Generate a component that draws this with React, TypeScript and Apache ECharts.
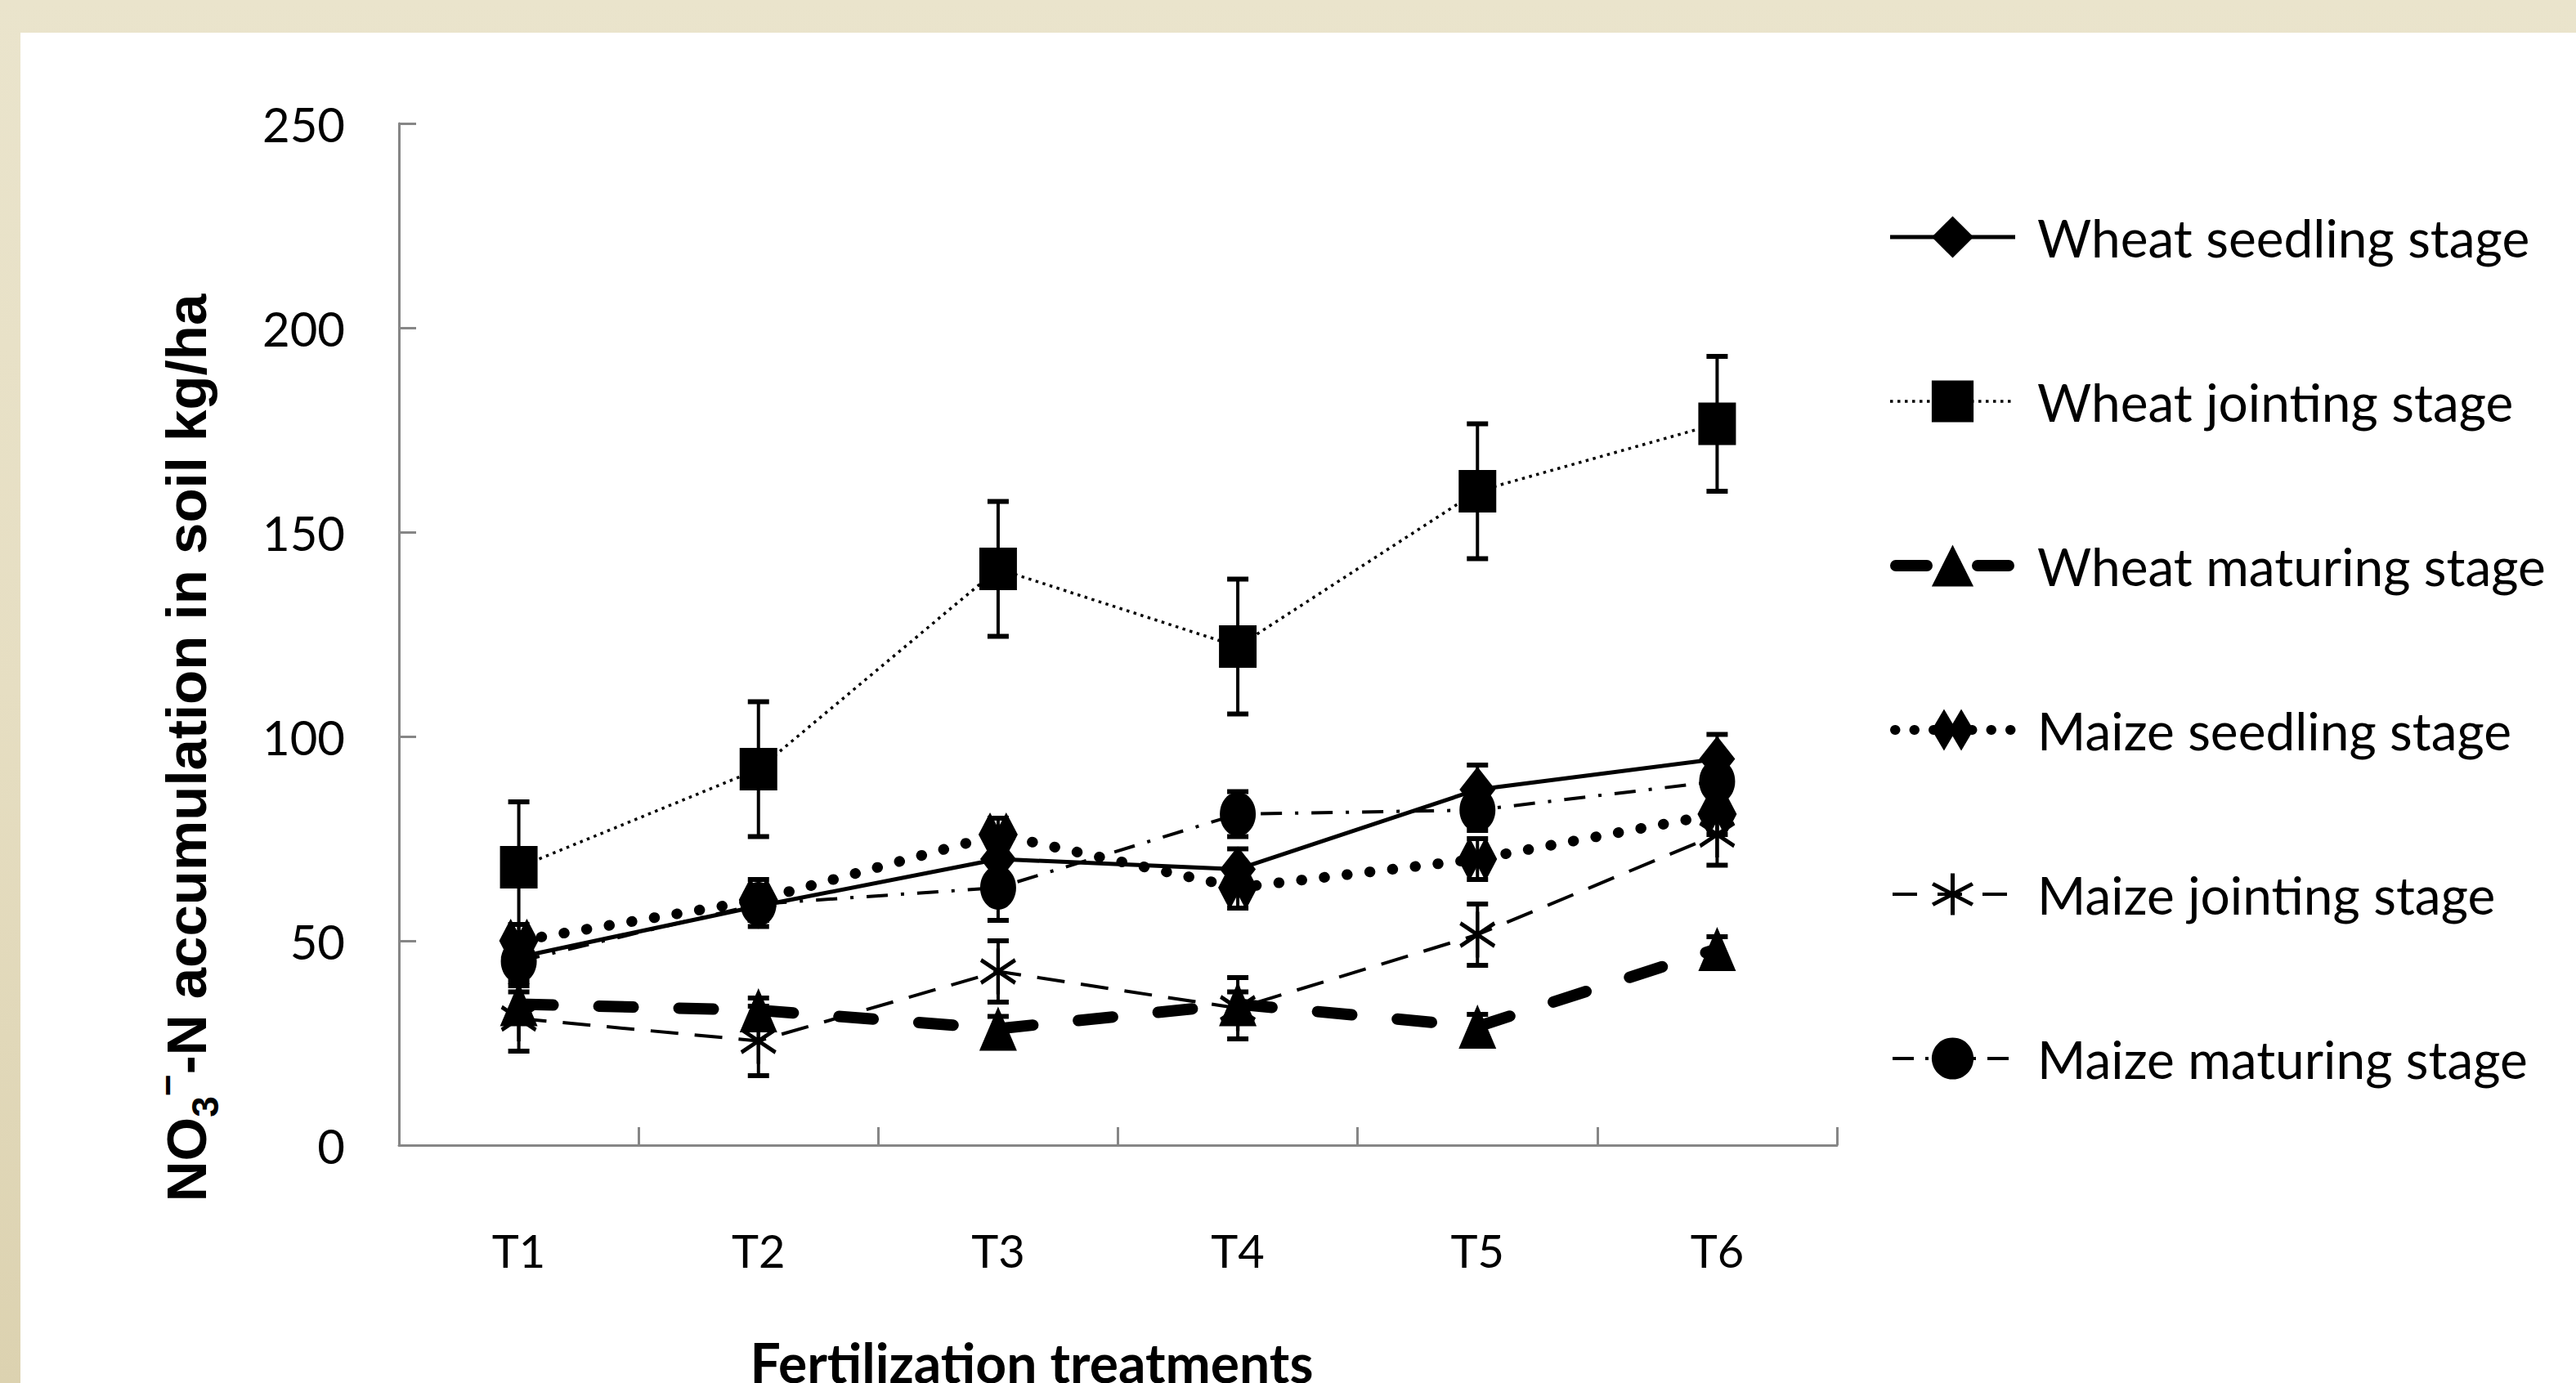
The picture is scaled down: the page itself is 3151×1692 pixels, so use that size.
import React, { useEffect, useRef } from "react";
import * as echarts from "echarts";

const categories = ["T1", "T2", "T3", "T4", "T5", "T6"];
const seriesNames = [
  "Wheat seedling stage",
  "Wheat jointing stage",
  "Wheat maturing stage",
  "Maize seedling stage",
  "Maize jointing stage",
  "Maize maturing stage",
];
const wheatSeedling = [46, 58.5, 70, 67.5, 87, 94.5];
const wheatSeedlingErr = [4, 5, 5, 5, 6, 6];
const wheatJointing = [68, 92, 141, 122, 160, 176.5];
const wheatJointingErr = [16, 16.5, 16.5, 16.5, 16.5, 16.5];
const wheatMaturing = [34.5, 33, 28.5, 34.5, 29, 48];
const wheatMaturingErr = [3, 3, 3, 3, 3, 3];
const maizeSeedling = [50, 60, 76, 63, 70, 81];
const maizeSeedlingErr = [4, 5, 4, 5, 5, 5];
const maizeJointing = [31, 25.5, 42.5, 33.5, 51.5, 76];
const maizeJointingErr = [8, 8.5, 7.5, 7.5, 7.5, 7.5];
const maizeMaturing = [45, 59, 63, 81, 82, 89];
const maizeMaturingErr = [5, 4, 8, 5.5, 5, 5];
const yMin = 0;
const yMax = 250;
const yStep = 50;

const FONT = "Lato, 'Open Sans', sans-serif";
const WIDE = "'Liberation Sans', Arial, sans-serif";
const AXIS_GREY = "#868686";

function bar(angleDeg: number, L: number, w: number): string {
  const a = (angleDeg * Math.PI) / 180;
  const dx = Math.sin(a), dy = -Math.cos(a);
  const nx = Math.cos(a), ny = Math.sin(a);
  const p = [
    [L * dx + w * nx, L * dy + w * ny],
    [L * dx - w * nx, L * dy - w * ny],
    [-L * dx - w * nx, -L * dy - w * ny],
    [-L * dx + w * nx, -L * dy + w * ny],
  ].map(([x, y]) => `${(x + 12).toFixed(3)},${(y + 12).toFixed(3)}`);
  return `M${p[0]}L${p[1]}L${p[2]}L${p[3]}Z`;
}
const asteriskPath = "path://" + bar(0, 10, 0.9) + bar(60, 10, 0.9) + bar(120, 10, 0.9);
const doubleDiamondPath = "path://M0,10L5,0L10,10L5,20ZM7,10L12,0L17,10L12,20Z";

const lineStyles: any[] = [
  { width: 5, type: "solid" },
  { width: 3.5, type: [3.5, 5.5] },
  { width: 14, type: [42, 56], cap: "round" },
  { width: 13, type: [0.5, 27.5], cap: "round" },
  { width: 4, type: [34, 20] },
  { width: 4, type: [26, 16, 4, 16] },
];
const legendLineStyles: any[] = [
  { width: 5, type: "solid" },
  { width: 3.5, type: [3.5, 5.5] },
  { width: 14, type: [38, 62], cap: "round", dashOffset: -7 },
  { width: 12, type: [0.5, 23], cap: "round", dashOffset: -6 },
  { width: 4, type: [30, 25], dashOffset: -3 },
  { width: 4, type: [26, 14, 4, 14], dashOffset: -3 },
];

function errorSeries(name: string, values: number[], errs: number[]) {
  return {
    type: "custom",
    name: name + " error",
    silent: true,
    z: 2,
    data: values.map((v, i) => [i, v, errs[i]]),
    encode: { x: 0, y: 1 },
    renderItem: (_params: any, api: any) => {
      const i = api.value(0);
      const v = api.value(1);
      const e = api.value(2);
      const top = api.coord([i, v + e]);
      const bot = api.coord([i, v - e]);
      const hw = 13;
      const st = { stroke: "#000", lineWidth: 4 };
      const cap = { stroke: "#000", lineWidth: 6 };
      return {
        type: "group",
        children: [
          { type: "line", shape: { x1: top[0], y1: top[1], x2: bot[0], y2: bot[1] }, style: st },
          { type: "line", shape: { x1: top[0] - hw, y1: top[1], x2: top[0] + hw, y2: top[1] }, style: cap },
          { type: "line", shape: { x1: bot[0] - hw, y1: bot[1], x2: bot[0] + hw, y2: bot[1] }, style: cap },
        ],
      };
    },
  };
}

function lineSeries(name: string, data: number[], symbol: string, symbolSize: number[], lineStyle: any) {
  return {
    type: "line",
    name,
    data,
    symbol,
    symbolSize,
    z: 3,
    lineStyle: { color: "#000", ...lineStyle },
    itemStyle: { color: "#000", borderWidth: 0 },
    emphasis: { disabled: true },
  };
}

export default function App() {
  const ref = useRef<HTMLDivElement>(null);
  useEffect(() => {
    if (!ref.current) return;
    const chart = echarts.init(ref.current, null, { renderer: "svg" });
    const option: any = {
      animation: false,
      backgroundColor: "transparent",
      grid: { left: 488, right: 904, top: 151, bottom: 291, containLabel: false },
      xAxis: {
        type: "category",
        data: categories,
        boundaryGap: true,
        axisLine: { show: true, lineStyle: { color: AXIS_GREY, width: 3 } },
        axisTick: { show: true, inside: true, length: 22, lineStyle: { color: AXIS_GREY, width: 3 } },
        axisLabel: { color: "#000", fontSize: 56, fontFamily: FONT, margin: 100 },
        splitLine: { show: false },
      },
      yAxis: {
        type: "value",
        min: yMin,
        max: yMax,
        interval: yStep,
        axisLine: { show: true, lineStyle: { color: AXIS_GREY, width: 3 } },
        axisTick: { show: true, inside: true, length: 21, lineStyle: { color: AXIS_GREY, width: 3 } },
        axisLabel: { color: "#000", fontSize: 58, fontFamily: FONT, margin: 66 },
        splitLine: { show: false },
      },
      legend: {
        orient: "vertical",
        left: 2305,
        top: 258,
        padding: 0,
        itemWidth: 153,
        itemHeight: 64,
        itemGap: 137,
        selectedMode: false,
        data: seriesNames.map((name, i) => ({
          name,
          lineStyle: { color: "#000", ...legendLineStyles[i] },
        })),
        textStyle: { fontSize: 64, fontFamily: FONT, color: "#000", padding: [0, 0, 0, 22] },
      },
      graphic: [
        {
          type: "text",
          x: 228,
          y: 915,
          rotation: Math.PI / 2,
          style: {
            text: "{n|NO}{s|3}{p|\u2212}{n|-N accumulation in soil kg/ha}",
            align: "center",
            verticalAlign: "middle",
            textAlign: "center",
            textVerticalAlign: "middle",
            fill: "#000",
            rich: {
              n: { fontSize: 69, fontWeight: "bold", fontFamily: WIDE, lineHeight: 92, fill: "#000", color: "#000" },
              s: { fontSize: 46, fontWeight: "bold", fontFamily: WIDE, lineHeight: 52, verticalAlign: "bottom", fill: "#000", color: "#000" },
              p: { fontSize: 46, fontWeight: "bold", fontFamily: WIDE, lineHeight: 52, verticalAlign: "top", fill: "#000", color: "#000" },
            },
          },
        },
        {
          type: "text",
          x: 1262,
          y: 1666,
          style: {
            text: "Fertilization treatments",
            fontSize: 66,
            fontWeight: "bold",
            fontFamily: FONT,
            fill: "#000",
            align: "center",
            verticalAlign: "middle",
            textAlign: "center",
            textVerticalAlign: "middle",
          },
        },
      ],
      series: [
        errorSeries(seriesNames[0], wheatSeedling, wheatSeedlingErr),
        errorSeries(seriesNames[1], wheatJointing, wheatJointingErr),
        errorSeries(seriesNames[2], wheatMaturing, wheatMaturingErr),
        errorSeries(seriesNames[3], maizeSeedling, maizeSeedlingErr),
        errorSeries(seriesNames[4], maizeJointing, maizeJointingErr),
        errorSeries(seriesNames[5], maizeMaturing, maizeMaturingErr),
        lineSeries(seriesNames[0], wheatSeedling, "diamond", [44, 56], lineStyles[0]),
        lineSeries(seriesNames[1], wheatJointing, "rect", [46, 52], lineStyles[1]),
        lineSeries(seriesNames[2], wheatMaturing, "triangle", [46, 54], lineStyles[2]),
        lineSeries(seriesNames[3], maizeSeedling, doubleDiamondPath, [48, 54], lineStyles[3]),
        lineSeries(seriesNames[4], maizeJointing, asteriskPath, [44, 56], lineStyles[4]),
        lineSeries(seriesNames[5], maizeMaturing, "circle", [44, 54], lineStyles[5]),
      ],
    };
    chart.setOption(option);
    return () => chart.dispose();
  }, []);

  return (
    <div
      style={{
        position: "fixed",
        left: 0,
        top: 0,
        width: 3151,
        height: 1692,
        background: "linear-gradient(to bottom, #EAE4CC 0%, #E6DEC2 50%, #DCD2B0 100%)",
        overflow: "hidden",
      }}
    >
      <div style={{ position: "absolute", left: 25, top: 40, right: 0, bottom: 0, background: "#FFFFFF" }} />
      <div ref={ref} style={{ position: "absolute", left: 0, top: 0, width: 3151, height: 1692 }} />
    </div>
  );
}
